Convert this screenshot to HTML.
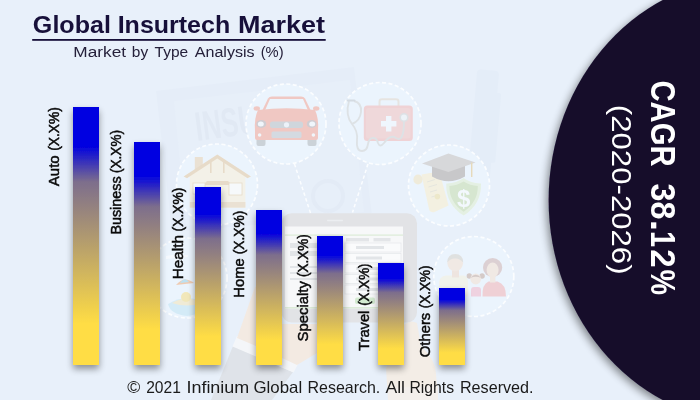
<!DOCTYPE html>
<html>
<head>
<meta charset="utf-8">
<style>
html,body{margin:0;padding:0;}
body{width:700px;height:400px;overflow:hidden;background:#e8f0fa;font-family:"Liberation Sans",sans-serif;}
svg{display:block;}
text{font-family:"Liberation Sans",sans-serif;}
</style>
</head>
<body>
<svg width="700" height="400" viewBox="0 0 700 400">
  <defs>
    <linearGradient id="bg" x1="0" y1="0" x2="0" y2="1">
      <stop offset="0" stop-color="#0000e1"/>
      <stop offset="0.15" stop-color="#0000e1"/>
      <stop offset="0.29" stop-color="#7d6e8c"/>
      <stop offset="0.84" stop-color="#ffdd44"/>
      <stop offset="1" stop-color="#ffdd44"/>
    </linearGradient>
    <filter id="sh" x="-50%" y="-10%" width="200%" height="130%">
      <feGaussianBlur in="SourceAlpha" stdDeviation="3.5"/>
      <feOffset dx="0" dy="4" result="o"/>
      <feComponentTransfer><feFuncA type="linear" slope="0.4"/></feComponentTransfer>
      <feMerge><feMergeNode/><feMergeNode in="SourceGraphic"/></feMerge>
    </filter>
    <filter id="soft" x="0" y="0" width="100%" height="100%" filterUnits="userSpaceOnUse"><feGaussianBlur stdDeviation="0.55"/></filter>
    <filter id="csh" x="-20%" y="-20%" width="140%" height="140%">
      <feGaussianBlur in="SourceAlpha" stdDeviation="4"/>
      <feOffset dx="-2" dy="3" result="o"/>
      <feComponentTransfer><feFuncA type="linear" slope="0.45"/></feComponentTransfer>
      <feMerge><feMergeNode/><feMergeNode in="SourceGraphic"/></feMerge>
    </filter>
  </defs>

  <rect width="700" height="400" fill="#e8f0fa"/>

  <!-- faint background illustration -->
  <g id="illus" filter="url(#soft)">
    <!-- insurance paper -->
    <g>
      <polygon points="156,91 354,67 372,215 172,232" fill="#e5edf8"/>
      <polygon points="174,101 350,80 364,212 186,226" fill="#e7eff9"/>
      <text transform="translate(197,141) rotate(-7.5)" font-size="41" font-weight="bold" fill="#e1e9f4" textLength="62" lengthAdjust="spacingAndGlyphs">INSU</text>
      <circle cx="328" cy="196" r="15" fill="none" stroke="#e3ebf6" stroke-width="4"/>
    </g>
    <!-- pen -->
    <g transform="rotate(5 485 130)" fill="#e4edf8">
      <rect x="472" y="70" width="22" height="130" rx="4"/>
      <rect x="492" y="92" width="6" height="70" rx="2"/>
    </g>
    <!-- hand + sleeve -->
    <g>
      <polygon points="233,346 293,372 272,400 211,400" fill="#dfe3e9"/>
      <polygon points="237,336 298,364 293.5,372.5 232.5,346.5" fill="#f4f6f9"/>
      <path d="M255 287 Q258 285 262 288 L262 324 L320 324 L322 350 L297 365 L256 346 L237 338 Z" fill="#f3eae2"/>
      <path d="M404 325 Q410 319 417 323 L421 346 Q436 360 436 374 L438 400 L388 400 L386 368 Q392 354 401 350 Z" fill="#f3ede6"/>
      <path d="M388 388 L438 386 L438 400 L388 400 Z" fill="#f3efec"/>
    </g>
    <!-- tablet -->
    <rect x="281.6" y="213.2" width="135.4" height="109.2" rx="10" fill="#e2e3e6"/>
    <rect x="327" y="219.8" width="16" height="1.4" rx="0.7" fill="#eceef1"/>
    <rect x="285" y="226.5" width="118" height="82" fill="#f7f8f9"/>
    <rect x="285" y="234.5" width="118" height="1.2" fill="#dcebd8"/>
    <rect x="285" y="307" width="118" height="1.5" fill="#dcebd8"/>
    <g>
      <rect x="346" y="238" width="23" height="3.4" fill="#e3e5e8"/>
      <rect x="373.5" y="238" width="17" height="3.4" fill="#e3e5e8"/>
      <g fill="#fafbfc" stroke="#e4e7ea" stroke-width="0.7">
        <rect x="345" y="243" width="56" height="9"/>
        <rect x="345" y="253.5" width="56" height="9"/>
        <rect x="345" y="264" width="56" height="9"/>
        <rect x="345" y="274.5" width="56" height="9"/>
        <rect x="345" y="285" width="56" height="9"/>
      </g>
      <g fill="#e2e5e8">
        <rect x="356" y="246" width="28" height="3"/>
        <rect x="356" y="256.5" width="26" height="3"/>
        <rect x="356" y="267" width="30" height="3"/>
        <rect x="356" y="277.5" width="24" height="3"/>
        <rect x="356" y="288" width="28" height="3"/>
        <rect x="290" y="243" width="40" height="5"/>
        <rect x="290" y="251" width="30" height="5"/>
        <rect x="290" y="266" width="48" height="2"/>
        <rect x="290" y="272" width="48" height="2"/>
        <rect x="290" y="278" width="40" height="2"/>
      </g>
      <rect x="355" y="297.5" width="20" height="6.5" rx="2" fill="#d3ead0"/>
    </g>
    <!-- circles -->
    <g fill="#ebf4fd" stroke="#fbfdff" stroke-width="1.7" stroke-dasharray="4 2.5">
      <circle cx="286" cy="124" r="40"/>
      <circle cx="217" cy="184.5" r="40.5"/>
      <circle cx="380" cy="123.5" r="41"/>
      <circle cx="449" cy="185.5" r="40.5"/>
      <circle cx="473.8" cy="276.5" r="40"/>
      <circle cx="187" cy="278" r="40"/>
    </g>
    <!-- connectors -->
    <g fill="none" stroke="#fbfdff" stroke-width="1.5" stroke-dasharray="3.5 2.5">
      <path d="M294.5 164 L310.5 213"/>
      <path d="M368 164 L352.5 212.5"/>
    </g>
    <!-- car -->
    <g opacity="0.28">
      <rect x="256.5" y="135" width="9" height="11" rx="2" fill="#7c7c7c"/>
      <rect x="307.5" y="135" width="9" height="11" rx="2" fill="#7c7c7c"/>
      <path d="M262 111 L268 98.5 Q269 96.5 272 96.5 L301 96.5 Q304 96.5 305 98.5 L311 111 Z" fill="#ff5a30"/>
      <path d="M265 110.5 L270 99 L303 99 L308 110.5 Z" fill="#f1f7fb"/>
      <ellipse cx="256.8" cy="108.5" rx="3.2" ry="2.2" fill="#ff5a30"/>
      <ellipse cx="316.2" cy="108.5" rx="3.2" ry="2.2" fill="#ff5a30"/>
      <path d="M258 110 Q286.5 106.5 315 110 Q319 118 318 131 L318 138 Q318 140 316 140 L257 140 Q255 140 255 138 L255 131 Q254 118 258 110 Z" fill="#ff5a30"/>
      <rect x="270" y="121.5" width="33" height="6.5" rx="2.5" fill="#8a8a8a"/>
      <rect x="271.5" y="131.5" width="30" height="6.5" rx="1.5" fill="#9a9a9a"/>
      <ellipse cx="261.3" cy="124" rx="5" ry="3.9" fill="#8a6a66"/>
      <ellipse cx="311.7" cy="124" rx="5" ry="3.9" fill="#8a6a66"/>
      <ellipse cx="260.8" cy="124" rx="3" ry="2.5" fill="#fffdf6"/>
      <ellipse cx="312.2" cy="124" rx="3" ry="2.5" fill="#fffdf6"/>
      <circle cx="259.6" cy="135" r="1.8" fill="#fffdf6"/>
      <circle cx="313.4" cy="135" r="1.8" fill="#fffdf6"/>
      <circle cx="286.5" cy="124.8" r="2.6" fill="#f0f0f0"/>
    </g>
    <!-- house -->
    <g opacity="0.65">
      <rect x="194.8" y="157" width="8" height="13" fill="#ead7bd"/>
      <rect x="189.8" y="175" width="55.6" height="32.6" fill="#f8f0dd"/>
      <polygon points="217.3,157 245,176 189.6,176" fill="#f8f0dd"/>
      <polygon points="217.3,154.4 251,176.5 247.5,178.2 217.3,158.6 187,178.2 183.6,176.5" fill="#e6cfae"/>
      <rect x="210" y="161" width="1.6" height="12" fill="#e6cfae"/>
      <rect x="223" y="161" width="1.6" height="12" fill="#e6cfae"/>
      <polygon points="207,181 228,181 232,185 203,185" fill="#e6cfae"/>
      <rect x="193" y="183" width="12" height="11" fill="#fdfdfb" stroke="#e6cfae" stroke-width="0.8"/>
      <rect x="229" y="183" width="13" height="12" fill="#fdfdfb" stroke="#e6cfae" stroke-width="0.8"/>
      <rect x="189.8" y="202" width="55.6" height="5.6" fill="#ead7bd"/>
    </g>
    <!-- medical kit -->
    <g opacity="0.24">
      <path d="M379.5 106 L379.5 101.5 Q379.5 99.3 382 99.3 L396 99.3 Q398.5 99.3 398.5 101.5 L398.5 106" fill="none" stroke="#d9b48a" stroke-width="2"/>
      <rect x="363.8" y="105.6" width="49" height="35.4" rx="3.5" fill="#ff6a58"/>
      <rect x="366" y="108" width="44.6" height="30.6" rx="2.5" fill="#ff8270"/>
      <path d="M386 116 h5.4 v5 h5 v5.4 h-5 v5 h-5.4 v-5 h-5 v-5.4 h5 z" fill="#ffffff"/>
      <path d="M349 101 Q345 115 352 124 Q358 131 357 140 Q356 151 362 151 Q367 151 368 144 Q369 138 373 138 Q377 138 378 143 Q380 148 384 143 Q390 134 396 138 Q404 143 404 121" fill="none" stroke="#b5aa9c" stroke-width="1.9"/>
      <path d="M354 101 Q362 103 361 112 Q360 121 352 124" fill="none" stroke="#b5aa9c" stroke-width="1.9"/>
      <circle cx="404" cy="117.5" r="3.8" fill="#f4f0ea" stroke="#b5aa9c" stroke-width="1.6"/>
      <rect x="346.5" y="99.6" width="9" height="2" rx="1" fill="#8e8e8e"/>
    </g>
    <!-- graduation / shield / scroll -->
    <g opacity="0.4">
      <path d="M421.4 174.5 L439.4 171.5 L448.6 205.5 L434 212.2 Q430 213 429 209 Z" fill="#ffecb9"/>
      <ellipse cx="418" cy="179.5" rx="4.6" ry="5" fill="#f5dfa8"/>
      <g stroke="#d9cdb0" stroke-width="0.9">
        <path d="M427 182 L435 179.5 M428.5 187 L437 184.5 M430 192 L437 190 M431.5 197 L435 196"/>
      </g>
      <circle cx="437.4" cy="196.6" r="2.8" fill="#f2d77f"/>
      <path d="M432 165 L432 176.5 Q448.5 186 465 176.5 L465 165 Z" fill="#958880"/>
      <polygon points="422,163.6 448.4,153.5 475.6,162.6 448.4,172" fill="#bbafa7"/>
      <rect x="471" y="162.5" width="1.4" height="14.5" fill="#e0b45a"/>
      <path d="M446.2 183.4 Q456 183.6 463.6 178 Q471 183.6 481 183.4 Q481.6 204 463.6 215.6 Q445.6 204 446.2 183.4 Z" fill="#dcebbd"/>
      <path d="M449.4 186 Q457 185.8 463.6 181.6 Q470 185.8 477.8 186 Q478 202 463.6 211.8 Q449.2 202 449.4 186 Z" fill="#b8d28e"/>
      <text x="463.6" y="206.5" font-size="24" font-weight="bold" fill="#ffffff" text-anchor="middle">$</text>
    </g>
    <!-- family -->
    <g opacity="0.33">
      <path d="M439 296.5 L439 283 Q439 276.5 446 275.5 L464 275.5 Q468 276.5 468 283 L468 296.5 Z" fill="#fdeec8"/>
      <rect x="452" y="270" width="7" height="7.5" fill="#f7c9a8"/>
      <circle cx="455.2" cy="263.5" r="7.8" fill="#fbd3b4"/>
      <path d="M447.2 262.5 Q447.4 254 455.2 254 Q463 254 463.2 262.5 Q459 258 455.2 258.5 Q451 258 447.2 262.5 Z" fill="#c9bba8"/>
      <path d="M482.5 296.5 Q482 284 488.5 281.5 L497.5 281.5 Q506 284 506 296.5 Z" fill="#f98a86"/>
      <circle cx="492.6" cy="267.5" r="9.6" fill="#c08a80"/>
      <ellipse cx="492.6" cy="270" rx="6" ry="7.6" fill="#fbd3b4"/>
      <rect x="490" y="276" width="5.4" height="6.5" fill="#fbd3b4"/>
      <circle cx="469.3" cy="276" r="2.7" fill="#a87860"/>
      <circle cx="482.1" cy="276" r="2.7" fill="#a87860"/>
      <circle cx="475.7" cy="279" r="5.4" fill="#fbd3b4"/>
      <path d="M470.3 278 Q475.7 271.5 481.2 278 Q475.7 275.6 470.3 278 Z" fill="#a87860"/>
      <path d="M471 296.5 L471 290 Q471 287 474 287 L478 287 Q481 287 481 290 L481 296.5 Z" fill="#f98fa6"/>
    </g>
    <!-- travel icon (mostly hidden) -->
    <g opacity="0.5">
      <path d="M166 256 l12 -2 l4 -4 l2 1 l-2 4 l6 0 l0 2 l-8 1 l-4 5 l-2 -1 l2 -4 l-10 1 z" fill="#ffffff"/>
      <path d="M176 285 Q184 275 194 283 Z" fill="#f2a46c"/>
      <path d="M180 283 Q185 276 189 282 Z" fill="#8fd0e8"/>
      <path d="M168 304 Q187 292 208 304 Q204 314 187 316 Q170 314 168 304 Z" fill="#bfe3f3"/>
      <path d="M172 303 Q187 294 202 303 Q187 308 172 303 Z" fill="#f5e3b0"/>
      <circle cx="186" cy="297" r="5" fill="#f7dc7a"/>
    </g>
  </g>

  <!-- bars -->
  <g filter="url(#sh)">
    <rect x="73" y="107" width="26" height="258" fill="url(#bg)"/>
    <rect x="134" y="142" width="26" height="223" fill="url(#bg)"/>
    <rect x="195" y="187" width="26" height="178" fill="url(#bg)"/>
    <rect x="256" y="210" width="26" height="155" fill="url(#bg)"/>
    <rect x="317" y="236" width="26" height="129" fill="url(#bg)"/>
    <rect x="378" y="263" width="26" height="102" fill="url(#bg)"/>
    <rect x="439" y="288" width="26" height="77" fill="url(#bg)"/>
  </g>

  <!-- text -->
  <text id="title" y="33.0" font-size="23" font-weight="bold" fill="#17103a"><tspan id="ti0" x="32.89" textLength="78.01" lengthAdjust="spacingAndGlyphs">Global</tspan> <tspan id="ti1" x="117.66" textLength="112.56" lengthAdjust="spacingAndGlyphs">Insurtech</tspan> <tspan id="ti2" x="237.97" textLength="87.01" lengthAdjust="spacingAndGlyphs">Market</tspan></text>
  <text id="sub" y="56.5" font-size="14.7" font-weight="normal" fill="#25203a"><tspan id="su0" x="73.36" textLength="52.69" lengthAdjust="spacingAndGlyphs">Market</tspan> <tspan id="su1" x="131.87" textLength="16.32" lengthAdjust="spacingAndGlyphs">by</tspan> <tspan id="su2" x="154.64" textLength="33.57" lengthAdjust="spacingAndGlyphs">Type</tspan> <tspan id="su3" x="194.75" textLength="59.86" lengthAdjust="spacingAndGlyphs">Analysis</tspan> <tspan id="su4" x="260.72" textLength="22.91" lengthAdjust="spacingAndGlyphs">(%)</tspan></text>
  <text id="foot" y="392.6" font-size="16.5" font-weight="normal" fill="#1a1a1a"><tspan id="fo0" x="127.30" textLength="13.03" lengthAdjust="spacingAndGlyphs">©</tspan> <tspan id="fo1" x="146.15" textLength="34.71" lengthAdjust="spacingAndGlyphs">2021</tspan> <tspan id="fo2" x="186.43" textLength="62.86" lengthAdjust="spacingAndGlyphs">Infinium</tspan> <tspan id="fo3" x="253.47" textLength="48.70" lengthAdjust="spacingAndGlyphs">Global</tspan> <tspan id="fo4" x="307.46" textLength="72.86" lengthAdjust="spacingAndGlyphs">Research.</tspan> <tspan id="fo5" x="385.45" textLength="19.60" lengthAdjust="spacingAndGlyphs">All</tspan> <tspan id="fo6" x="409.43" textLength="44.72" lengthAdjust="spacingAndGlyphs">Rights</tspan> <tspan id="fo7" x="459.92" textLength="73.65" lengthAdjust="spacingAndGlyphs">Reserved.</tspan></text>
  <text id="lab0" transform="translate(59.2,186.21) rotate(-90)" font-size="15.2" font-weight="normal" fill="#0a0a0a" stroke="#0a0a0a" stroke-width="0.5"><tspan id="lw0" x="0.00" textLength="30.89" lengthAdjust="spacingAndGlyphs">Auto</tspan> <tspan id="lp0" x="35.45" textLength="43.72" lengthAdjust="spacingAndGlyphs">(X.X%)</tspan></text>
  <text id="lab1" transform="translate(120.7,234.61) rotate(-90)" font-size="15.2" font-weight="normal" fill="#0a0a0a" stroke="#0a0a0a" stroke-width="0.5"><tspan id="lw1" x="0.00" textLength="58.26" lengthAdjust="spacingAndGlyphs">Business</tspan> <tspan id="lp1" x="61.60" textLength="43.00" lengthAdjust="spacingAndGlyphs">(X.X%)</tspan></text>
  <text id="lab2" transform="translate(182.5,279.35) rotate(-90)" font-size="15.2" font-weight="normal" fill="#0a0a0a" stroke="#0a0a0a" stroke-width="0.5"><tspan id="lw2" x="0.00" textLength="44.37" lengthAdjust="spacingAndGlyphs">Health</tspan> <tspan id="lp2" x="47.97" textLength="43.74" lengthAdjust="spacingAndGlyphs">(X.X%)</tspan></text>
  <text id="lab3" transform="translate(243.5,297.63) rotate(-90)" font-size="15.2" font-weight="normal" fill="#0a0a0a" stroke="#0a0a0a" stroke-width="0.5"><tspan id="lw3" x="0.00" textLength="39.20" lengthAdjust="spacingAndGlyphs">Home</tspan> <tspan id="lp3" x="43.38" textLength="43.60" lengthAdjust="spacingAndGlyphs">(X.X%)</tspan></text>
  <text id="lab4" transform="translate(307.5,341.40) rotate(-90)" font-size="15.2" font-weight="normal" fill="#0a0a0a" stroke="#0a0a0a" stroke-width="0.5"><tspan id="lw4" x="0.00" textLength="60.34" lengthAdjust="spacingAndGlyphs">Specialty</tspan> <tspan id="lp4" x="64.53" textLength="42.75" lengthAdjust="spacingAndGlyphs">(X.X%)</tspan></text>
  <text id="lab5" transform="translate(368.8,350.84) rotate(-90)" font-size="15.2" font-weight="normal" fill="#0a0a0a" stroke="#0a0a0a" stroke-width="0.5"><tspan id="lw5" x="0.00" textLength="40.17" lengthAdjust="spacingAndGlyphs">Travel</tspan> <tspan id="lp5" x="45.01" textLength="42.36" lengthAdjust="spacingAndGlyphs">(X.X%)</tspan></text>
  <text id="lab6" transform="translate(429.8,357.13) rotate(-90)" font-size="15.2" font-weight="normal" fill="#0a0a0a" stroke="#0a0a0a" stroke-width="0.5"><tspan id="lw6" x="0.00" textLength="44.31" lengthAdjust="spacingAndGlyphs">Others</tspan> <tspan id="lp6" x="48.77" textLength="42.82" lengthAdjust="spacingAndGlyphs">(X.X%)</tspan></text>
  <rect x="32.2" y="39" width="293.5" height="1.8" fill="#17103a"/>

  <!-- dark ellipse -->
  <ellipse cx="752.2" cy="200" rx="203.6" ry="222.8" fill="#170d2c" filter="url(#csh)"/>

  <!-- CAGR text -->
  <text id="cagr" transform="translate(650.7,80.43) rotate(90)" font-size="35.5" font-weight="bold" fill="#fff"><tspan id="cg0" x="0.00" textLength="86.14" lengthAdjust="spacingAndGlyphs">CAGR</tspan> <tspan id="cn0" x="103.12" textLength="35.86" lengthAdjust="spacingAndGlyphs">38</tspan><tspan id="cn1" x="139.10" textLength="11.84" lengthAdjust="spacingAndGlyphs">.</tspan><tspan id="cn2" x="150.48" textLength="16.16" lengthAdjust="spacingAndGlyphs">1</tspan><tspan id="cn3" x="168.95" textLength="18.43" lengthAdjust="spacingAndGlyphs">2</tspan><tspan id="cn4" x="188.99" textLength="25.57" lengthAdjust="spacingAndGlyphs">%</tspan></text>
  <text id="year" transform="translate(611.5,104.85) rotate(90)" font-size="28.5" font-weight="normal" fill="#fff"><tspan id="cg2" x="0.00" textLength="169.69" lengthAdjust="spacingAndGlyphs">(2020-2026)</tspan></text>
</svg>
</body>
</html>
